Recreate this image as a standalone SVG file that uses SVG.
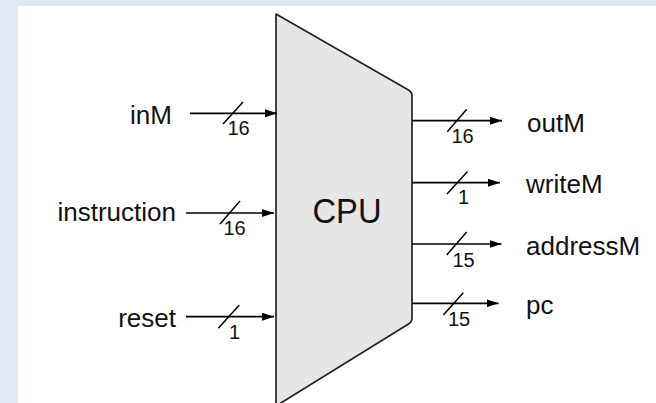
<svg xmlns="http://www.w3.org/2000/svg" width="656" height="403" viewBox="0 0 656 403">
  <defs>
    <marker id="arrow" markerUnits="userSpaceOnUse" markerWidth="12" markerHeight="8" refX="12" refY="4" orient="auto">
      <path d="M0,0 L12,4 L0,8 Z" fill="#000"/>
    </marker>
  </defs>
  <style>
    .lbl { font-family: "Liberation Sans", Arial, sans-serif; font-size: 26px; fill: #111; }
    .bus { font-family: "Liberation Sans", Arial, sans-serif; font-size: 20px; fill: #111; }
    .wire { stroke: #000; stroke-width: 1.7; fill: none; marker-end: url(#arrow); }
    .slash { stroke: #000; stroke-width: 1.5; fill: none; }
  </style>
  <rect x="0" y="0" width="656" height="403" fill="#dee9f5"/>
  <rect x="18" y="6" width="638" height="397" fill="#ffffff"/>

  <g id="cpu">
    <path d="M276,14 L408.5,90 Q412,92 412,96 L412,318 Q412,322 408.5,324 L276,406 Z" fill="#e6e6e6" stroke="#222" stroke-width="1.7" stroke-linejoin="round"/>
    <text class="lbl" x="347" y="222.7" text-anchor="middle" textLength="69" lengthAdjust="spacingAndGlyphs" style="font-size:35px">CPU</text>
  </g>

  <g id="inM"><text class="lbl" x="172" y="124.3" text-anchor="end">inM</text></g>
  <g id="instruction"><text class="lbl" x="176" y="220.7" text-anchor="end">instruction</text></g>
  <g id="reset"><text class="lbl" x="176" y="327.3" text-anchor="end">reset</text></g>
  <g id="outM"><text class="lbl" x="527" y="131.7">outM</text></g>
  <g id="writeM"><text class="lbl" x="526" y="193.3">writeM</text></g>
  <g id="addressM"><text class="lbl" x="526" y="255">addressM</text></g>
  <g id="pc"><text class="lbl" x="526" y="314">pc</text></g>

  <g id="connectors">
    <line class="wire" x1="190" y1="113.3" x2="277" y2="113.3"/>
    <line class="slash" x1="223" y1="124" x2="243" y2="102"/>
    <text class="bus" x="227.5" y="135">16</text>

    <line class="wire" x1="186" y1="213" x2="274" y2="213"/>
    <line class="slash" x1="220" y1="224" x2="240" y2="201"/>
    <text class="bus" x="223.5" y="235">16</text>

    <line class="wire" x1="186" y1="316.7" x2="274" y2="316.7"/>
    <line class="slash" x1="218.3" y1="328.3" x2="239.3" y2="305"/>
    <text class="bus" x="229" y="339.3">1</text>

    <line class="wire" x1="412" y1="120.7" x2="502" y2="120.7"/>
    <line class="slash" x1="447.3" y1="131.7" x2="466.7" y2="109.3"/>
    <text class="bus" x="451.5" y="143.3">16</text>

    <line class="wire" x1="412" y1="182.7" x2="500" y2="182.7"/>
    <line class="slash" x1="447" y1="194" x2="467.5" y2="171.5"/>
    <text class="bus" x="458" y="204">1</text>

    <line class="wire" x1="412" y1="244" x2="501.5" y2="244"/>
    <line class="slash" x1="446.7" y1="255" x2="466.7" y2="232"/>
    <text class="bus" x="452.5" y="266.7">15</text>

    <line class="wire" x1="412" y1="303.3" x2="498.5" y2="303.3"/>
    <line class="slash" x1="443.3" y1="315" x2="463.3" y2="292.7"/>
    <text class="bus" x="448" y="326">15</text>
  </g>
</svg>
